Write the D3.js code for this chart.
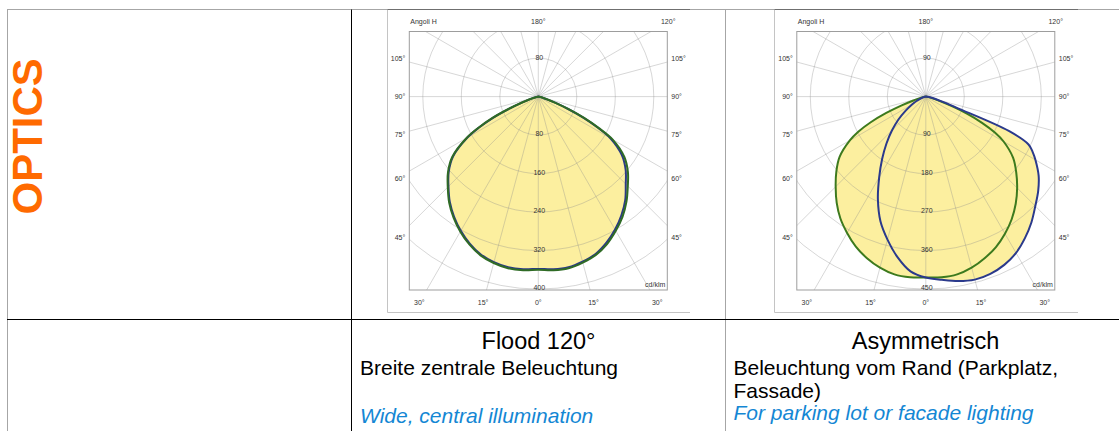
<!DOCTYPE html>
<html>
<head>
<meta charset="utf-8">
<script src="https://cdn.jsdelivr.net/npm/d3@7"></script>
<style>
  html, body { margin: 0; padding: 0; background: #fff; }
  svg { display: block; font-family: "Liberation Sans", Arial, sans-serif; }
</style>
</head>
<body>
<svg id="page" width="1119" height="431"></svg>
<script>
// Vertical angles (gamma, 0 = straight down) used by every curve
var gammaDeg = [0, 5, 10, 15, 20, 25, 30, 35, 40, 45, 50, 55, 60, 62.5, 65, 67.5, 70, 72.5, 75, 80, 85, 90];

// Flood 120° - cd/klm, left half and right half of each plane
var floodGreenLeft  = [360, 362, 362, 358, 351, 339, 324, 307, 288, 266, 245, 218, 172, 140, 105, 66, 36, 20, 11, 4, 1, 0];
var floodGreenRight = [360, 362, 362, 357, 350, 338, 322, 305, 285, 263, 243, 218, 178, 142, 105, 68, 38, 20, 11, 5, 2, 0];
var floodBlueLeft   = [358, 360, 360, 356, 349, 337, 322, 305, 286, 264, 243, 216, 170, 138, 103, 64, 35, 19, 10, 4, 1, 0];
var floodBlueRight  = [358, 360, 360, 355, 348, 335, 319, 301, 281, 257, 237, 212, 173, 139, 103, 66, 37, 19, 10, 5, 2, 0];

// Asymmetrisch - cd/klm
var asymGreenLeft  = [423, 424, 422, 414, 402, 387, 368, 348, 324, 298, 273, 246, 205, 178, 142, 100, 60, 32, 18, 7, 2, 0];
var asymGreenRight = [423, 424, 422, 414, 402, 388, 370, 350, 327, 302, 276, 249, 210, 182, 145, 104, 62, 33, 18, 7, 2, 0];
var asymBlueLeft   = [423, 410, 381, 346, 310, 265, 218, 178, 143, 112, 84, 58, 38, 30, 23, 17, 12, 9, 6, 3, 1, 0];
var asymBlueRight  = [423, 430, 438, 443, 441, 434, 422, 404, 384, 362, 343, 322, 296, 282, 265, 210, 80, 45, 28, 12, 4, 0];

// Grid ticks
var floodRings = [80, 160, 240, 320, 400];
var asymRings = [90, 180, 270, 360, 450];
var sideTicks = [45, 60, 75, 90, 105];
var bottomTicks = [30, 15, 0, 15, 30];

// Texts
var sectionTitle = "OPTICS";
var opticNames = ["Flood 120°", "Asymmetrisch"];
var opticTextDe = [["Breite zentrale Beleuchtung"], ["Beleuchtung vom Rand (Parkplatz,", "Fassade)"]];
var opticTextEn = ["Wide, central illumination", "For parking lot or facade lighting"];

var svg = d3.select("#page");

// ---- table lines ----
var grey = "#a6a6a6";
function hline(x1, x2, y, c) {
    svg.append("line").attr("x1", x1).attr("x2", x2).attr("y1", y).attr("y2", y)
       .attr("stroke", c).attr("stroke-width", 1);
}
function vline(x, y1, y2, c) {
    svg.append("line").attr("x1", x).attr("x2", x).attr("y1", y1).attr("y2", y2)
       .attr("stroke", c).attr("stroke-width", 1);
}
hline(7, 1119, 9.5, grey);
vline(7.5, 9.5, 431, grey);
vline(725.5, 9.5, 431, grey);

// photo frames around each diagram
[[387.5, 690], [774.5, 1078]].forEach(function(b) {
    vline(b[0], 9.5, 312.5, "#c4c4c4");
    hline(b[0], b[1], 312.5, "#c4c4c4");
    hline(b[0], b[1], 9.5, "#6f6f6f");
});

vline(351.5, 9.5, 431, "#000");
hline(7, 1119, 319.5, "#000");

// ---- OPTICS label ----
svg.append("text")
   .attr("transform", "translate(41.5,136.3) rotate(-90)")
   .attr("text-anchor", "middle")
   .style("font-size", "42px")
   .style("font-weight", "bold")
   .style("fill", "#ff6a00")
   .text(sectionTitle);

// ---- polar diagrams ----
var cy = 96.6;
var outerR = 192.5;

function outline(left, right) {
    var pts = [];
    for (var i = gammaDeg.length - 1; i >= 0; i--) {
        pts.push({a: Math.PI + gammaDeg[i] * Math.PI / 180, v: left[i]});
    }
    for (var j = 1; j < gammaDeg.length; j++) {
        pts.push({a: Math.PI - gammaDeg[j] * Math.PI / 180, v: right[j]});
    }
    return pts;
}

function drawDiagram(id, cx, rings, curves) {
    var r = d3.scaleLinear().domain([0, rings[rings.length - 1]]).range([0, outerR]);
    var fx0 = -129, fx1 = 129, fy0 = 31.5 - cy, fy1 = 290 - cy;

    var g = svg.append("g").attr("transform", `translate(${cx},${cy})`);

    g.append("clipPath").attr("id", "clip-" + id)
     .append("rect").attr("x", fx0).attr("y", fy0)
     .attr("width", fx1 - fx0).attr("height", fy1 - fy0);

    var inner = g.append("g").attr("clip-path", `url(#clip-${id})`);

    var line = d3.lineRadial()
                 .angle(function(d) { return d.a; })
                 .radius(function(d) { return r(d.v); })
                 .curve(d3.curveCatmullRom.alpha(0.5));

    // yellow fill under both planes
    curves.forEach(function(c) {
        inner.append("path")
             .attr("d", line(outline(c.left, c.right)) + "Z")
             .style("fill", "#fcef9f")
             .attr("stroke", "none");
    });

    // radial lines every 15 degrees
    inner.selectAll("line.spoke")
         .data(d3.range(0, 360, 15))
         .enter()
         .append("line")
            .attr("x1", 0).attr("y1", 0)
            .attr("x2", function(d) { return 400 * Math.sin(d * Math.PI / 180); })
            .attr("y2", function(d) { return 400 * Math.cos(d * Math.PI / 180); })
            .attr("stroke", "#8c8c8c")
            .attr("stroke-opacity", 0.5)
            .attr("stroke-width", 0.7);

    inner.selectAll("circle.ring")
         .data(rings)
         .enter()
         .append("circle")
            .attr("r", function(d) { return r(d); })
            .attr("fill", "none")
            .attr("stroke", "#8c8c8c")
            .attr("stroke-opacity", 0.5)
            .attr("stroke-width", 0.7);

    g.append("rect").attr("x", fx0).attr("y", fy0)
     .attr("width", fx1 - fx0).attr("height", fy1 - fy0)
     .attr("fill", "none").attr("stroke", "#9d9d9d").attr("stroke-width", 1);

    // the light curves
    curves.forEach(function(c) {
        inner.append("path")
             .attr("d", line(outline(c.left, c.right)))
             .attr("fill", "none")
             .attr("stroke", c.color)
             .attr("stroke-width", 2)
             .attr("stroke-linejoin", "round");
    });

    // intensity labels along the vertical axis
    var lab = g.append("g").style("font-size", "7px").style("fill", "#333").attr("text-anchor", "middle");
    lab.append("text").attr("x", 1).attr("y", -r(rings[0]) + 1.5).text(rings[0]);
    lab.selectAll("text.ring")
       .data(rings)
       .enter()
       .append("text")
          .attr("x", 1)
          .attr("y", function(d) { return r(d) + 1; })
          .text(function(d) { return d; });

    lab.append("text").attr("x", fx1 - 2).attr("y", fy1 - 3)
       .attr("text-anchor", "end").text("cd/klm");

    // angle labels round the frame
    var ax = 141, ayDown = 206;
    sideTicks.forEach(function(t) {
        var a = t * Math.PI / 180;
        var y = ax * Math.cos(a) / Math.sin(a);
        lab.append("text").attr("x", fx0 - 4).attr("y", y + 2.5).attr("text-anchor", "end").text(t + "°");
        lab.append("text").attr("x", fx1 + 4).attr("y", y + 2.5).attr("text-anchor", "start").text(t + "°");
    });
    bottomTicks.forEach(function(t, i) {
        var a = t * Math.PI / 180;
        var x = ayDown * Math.tan(a) * (i < 2 ? -1 : 1);
        lab.append("text").attr("x", x).attr("y", ayDown + 2.5).text(t + "°");
    });
    lab.append("text").attr("x", 0).attr("y", -75 + 2.5).text("180°");
    lab.append("text").attr("x", 75 / Math.tan(30 * Math.PI / 180)).attr("y", -75 + 2.5).text("120°");
    lab.append("text").attr("x", fx0 + 1).attr("y", -75 + 2.5).attr("text-anchor", "start").text("Angoli H");
}

drawDiagram("flood", 538.3, floodRings, [
    {left: floodBlueLeft, right: floodBlueRight, color: "#2b3a86"},
    {left: floodGreenLeft, right: floodGreenRight, color: "#2f6b25"}
]);
drawDiagram("asym", 925.8, asymRings, [
    {left: asymGreenLeft, right: asymGreenRight, color: "#3d7a1e"},
    {left: asymBlueLeft, right: asymBlueRight, color: "#2b3a8c"}
]);

// ---- descriptions ----
var colLeft = [360, 733.5];
var colMid = [538.5, 925.6];
var enY = [423, 420];
opticNames.forEach(function(name, i) {
    svg.append("text").attr("x", colMid[i]).attr("y", 349.3)
       .attr("text-anchor", "middle").style("font-size", "23.5px").style("fill", "#000")
       .text(name);
    opticTextDe[i].forEach(function(t, k) {
        svg.append("text").attr("x", colLeft[i]).attr("y", 374.8 + k * 23)
           .style("font-size", "21px").style("fill", "#000").text(t);
    });
    svg.append("text").attr("x", colLeft[i]).attr("y", enY[i])
       .style("font-size", "21px").style("font-style", "italic").style("fill", "#1487d4")
       .text(opticTextEn[i]);
});
</script>
</body>
</html>
